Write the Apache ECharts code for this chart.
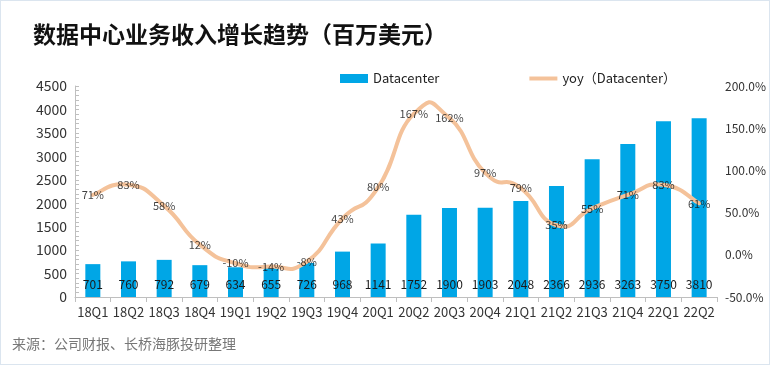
<!DOCTYPE html>
<html>
<head>
<meta charset="utf-8">
<script src="https://cdn.jsdelivr.net/npm/echarts@6/dist/echarts.min.js"></script>
<style>
html,body{margin:0;padding:0;background:#fff;}
#wrap{position:relative;width:768px;height:363px;border:1px solid #dbe5ef;}
#chart{width:768px;height:363px;}
</style>
</head>
<body>
<div id="wrap"><div id="chart"></div></div>
<script>
const titleText = '数据中心业务收入增长趋势（百万美元）';
const sourceText = '来源：公司财报、长桥海豚投研整理';
const categories = ['18Q1','18Q2','18Q3','18Q4','19Q1','19Q2','19Q3','19Q4','20Q1','20Q2','20Q3','20Q4','21Q1','21Q2','21Q3','21Q4','22Q1','22Q2'];
const revenue = [701,760,792,679,634,655,726,968,1141,1752,1900,1903,2048,2366,2936,3263,3750,3810];
const yoy = [71,83,58,12,-10,-14,-8,43,80,167,162,97,79,35,55,71,83,61];
const barName = 'Datacenter';
const lineName = 'yoy（Datacenter）';

const lineColor = '#F4C29A';
const tension = 0.28;
const chart = echarts.init(document.getElementById('chart'), null, {renderer:'canvas'});
const font = '"Microsoft YaHei","Noto Sans CJK SC","Noto Sans",sans-serif';

function renderSmooth(params, api){
  const i = params.dataIndex, n = yoy.length;
  if (i >= n - 1) return null;
  const c = k => api.coord([Math.max(0, Math.min(n - 1, k)), yoy[Math.max(0, Math.min(n - 1, k))]]);
  const p0 = c(i - 1), p1 = c(i), p2 = c(i + 1), p3 = c(i + 2);
  return {
    type:'bezierCurve',
    shape:{
      x1:p1[0], y1:p1[1], x2:p2[0], y2:p2[1],
      cpx1:p1[0] + (p2[0] - p0[0]) * tension, cpy1:p1[1] + (p2[1] - p0[1]) * tension,
      cpx2:p2[0] - (p3[0] - p1[0]) * tension, cpy2:p2[1] - (p3[1] - p1[1]) * tension
    },
    style:{stroke:lineColor, lineWidth:4, fill:null, lineCap:'round'}
  };
}

chart.setOption({
  animation:false,
  textStyle:{fontFamily:font},
  title:{
    text:titleText, left:27, top:17,
    textStyle:{fontSize:23, fontWeight:'bold', color:'#111', fontFamily:font}
  },
  graphic:[{
    type:'text', left:11, top:336,
    style:{text:sourceText, fontSize:14, fill:'#777', fontFamily:font}
  }],
  legend:{
    left:334, top:66, itemGap:90, itemWidth:28, itemHeight:9,
    textStyle:{fontSize:13, color:'#222', fontFamily:font},
    data:[{name:barName, icon:'rect'}, {name:lineName, icon:'path://M0,0L28,0L28,4L0,4Z', itemStyle:{color:lineColor}}]
  },
  grid:{left:74, right:48, top:85, bottom:67},
  xAxis:{
    type:'category', data:categories,
    axisLine:{lineStyle:{color:'#bfbfbf'}},
    axisTick:{show:true, alignWithLabel:false, length:5, lineStyle:{color:'#bfbfbf'}},
    axisLabel:{fontSize:13, color:'#333', margin:9, interval:0}
  },
  yAxis:[{
    type:'value', min:0, max:4500, interval:500,
    axisLine:{show:true, lineStyle:{color:'#bfbfbf'}},
    axisTick:{show:true, inside:true, length:4, lineStyle:{color:'#bfbfbf'}},
    minorTick:{show:true, splitNumber:5, length:4, lineStyle:{color:'#bfbfbf'}},
    splitLine:{show:false},
    axisLabel:{fontSize:14, color:'#333', margin:8, formatter:v=>String(v)}
  },{
    type:'value', min:-50, max:200, interval:50, position:'right',
    axisLine:{show:false}, axisTick:{show:false}, splitLine:{show:false},
    axisLabel:{fontSize:12, color:'#333', margin:8, formatter:v=>v.toFixed(1)+'%'}
  }],
  series:[{
    name:barName, type:'bar', data:revenue, barWidth:15,
    itemStyle:{color:'#00A6E6'},
    label:{show:true, position:'insideBottom', distance:7, fontSize:12, color:'#1a1a1a'},
    z:2
  },{
    name:lineName, type:'custom', yAxisIndex:1,
    data:yoy.map((v, i) => [i, v]),
    encode:{x:0, y:1},
    renderItem:renderSmooth,
    itemStyle:{color:lineColor},
    silent:true,
    z:3
  },{
    name:'yoyLabels', type:'scatter', yAxisIndex:1, data:yoy,
    symbolSize:1, itemStyle:{color:'rgba(0,0,0,0)'},
    label:{show:true, position:'inside', fontSize:11, color:'#111', formatter:p=>p.value+'%'},
    emphasis:{disabled:true},
    z:4
  }]
});
</script>
</body>
</html>
